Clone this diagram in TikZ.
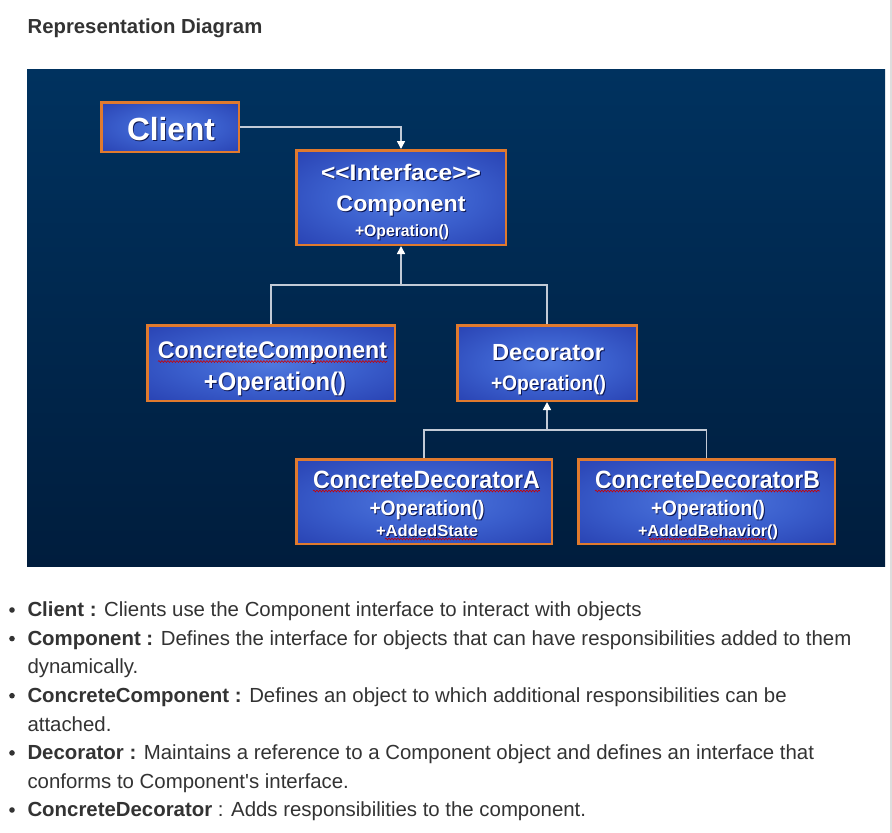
\documentclass[tikz,border=0pt]{standalone}
\usepackage{fontspec}
\usepackage{graphicx}
\setmainfont{Liberation Sans}[Ligatures=TeXOff]
\usetikzlibrary{arrows.meta,decorations.pathmorphing}
\definecolor{txt}{HTML}{333333}
\definecolor{panelTop}{HTML}{00325F}
\definecolor{panelBot}{HTML}{001D3D}
\definecolor{boxin}{HTML}{4F78DE}
\definecolor{boxmid}{HTML}{3A5ECC}
\definecolor{boxedge}{HTML}{1B2C9E}
\definecolor{boxcorner}{HTML}{0E1C80}
\definecolor{boxborder}{HTML}{E07A2E}
\definecolor{connc}{HTML}{C2CAD6}
\definecolor{tshadow}{HTML}{0A1450}
\definecolor{scrollc}{HTML}{DDDDDD}
\pgfdeclareradialshading{boxshade}{\pgfpoint{0bp}{0bp}}{color(0bp)=(boxin); color(18bp)=(boxmid); color(50bp)=(boxedge); color(72bp)=(boxcorner)}
\newcommand\shd[1]{\rlap{\kern1pt\raisebox{-1pt}{\textcolor{tshadow}{#1}}}#1}
\newcommand\fitw[2]{\resizebox{#1}{\height}{#2}}
\tikzset{
  umlbox/.style={draw=boxborder, line width=2.5pt, shading=boxshade, rectangle, inner sep=0pt},
  btxt/.style={anchor=base, inner sep=0pt, text=white},
  conn/.style={draw=connc, line width=1.6pt},
  arr/.style={-{Triangle[width=8pt,length=8pt,color=white]}},
  squiggle/.style={draw=red!80!black, line width=0.6pt, decorate, decoration={snake, amplitude=0.9pt, segment length=3pt}},
  ltxt/.style={anchor=base west, inner sep=0pt, text=txt, font=\fontsize{20.4}{24}\selectfont},
  bul/.style={fill=txt}
}
\begin{document}
\begin{tikzpicture}[x=1pt,y=-1pt]
\useasboundingbox (0,0) rectangle (892,833);
\fill[white] (0,0) rectangle (892,833);
\draw[scrollc, line width=1.5pt] (891.2,0) -- (891.2,833);

% title
\node[anchor=base west, inner sep=0pt, text=txt, font=\fontsize{20.3}{24}\selectfont\bfseries] (title) at (27.5,33.3) {Representation Diagram};

% panel
\shade[top color=panelTop, bottom color=panelBot] (27,69) rectangle (885,566);

% boxes
\node[umlbox, minimum width=137.5pt, minimum height=49.5pt] (client) at (170,127) {};
\node[umlbox, minimum width=209.5pt, minimum height=94.5pt] (comp) at (401,197.5) {};
\node[umlbox, minimum width=247.5pt, minimum height=75.5pt] (cc) at (271,363) {};
\node[umlbox, minimum width=179.5pt, minimum height=75.5pt] (dec) at (547,363) {};
\node[umlbox, minimum width=255.5pt, minimum height=84.5pt] (cda) at (424,501.5) {};
\node[umlbox, minimum width=256.5pt, minimum height=84.5pt] (cdb) at (706.5,501.5) {};

% box texts
\node[btxt, font=\fontsize{32}{36}\selectfont\bfseries] (client-t) at (171,140) {\fitw{88pt}{\shd{Client}}};
\node[btxt, font=\fontsize{22.5}{26}\selectfont\bfseries] (comp-t1) at (401,180.7) {\fitw{160pt}{\shd{<{}<Interface>{}>}}};
\node[btxt, font=\fontsize{22.5}{26}\selectfont\bfseries] (comp-t2) at (401,211.7) {\fitw{129pt}{\shd{Component}}};
\node[btxt, font=\fontsize{16.3}{20}\selectfont\bfseries] (comp-t3) at (402,236.6) {\fitw{94pt}{\shd{+Operation()}}};

\node[btxt, font=\fontsize{24}{28}\selectfont\bfseries] (cc-t1) at (272.5,358) {\fitw{229pt}{\shd{ConcreteComponent}}};
\node[btxt, font=\fontsize{25.5}{28}\selectfont\bfseries] (cc-t2) at (275,390) {\fitw{142pt}{\shd{+Operation()}}};

\node[btxt, font=\fontsize{23.3}{28}\selectfont\bfseries] (dec-t1) at (548,360.5) {\fitw{112pt}{\shd{Decorator}}};
\node[btxt, font=\fontsize{21}{26}\selectfont\bfseries] (dec-t2) at (548.5,390.5) {\fitw{115pt}{\shd{+Operation()}}};

\node[btxt, font=\fontsize{25}{28}\selectfont\bfseries] (cda-t1) at (426.5,488) {\fitw{227pt}{\shd{ConcreteDecoratorA}}};
\node[btxt, font=\fontsize{21}{26}\selectfont\bfseries] (cda-t2) at (427,515) {\fitw{115pt}{\shd{+Operation()}}};
\node[btxt, font=\fontsize{16}{20}\selectfont\bfseries] (cda-t3) at (427,536) {\fitw{102pt}{\shd{+AddedState}}};

\node[btxt, font=\fontsize{25}{28}\selectfont\bfseries] (cdb-t1) at (707.5,488) {\fitw{225pt}{\shd{ConcreteDecoratorB}}};
\node[btxt, font=\fontsize{21}{26}\selectfont\bfseries] (cdb-t2) at (708,515) {\fitw{114pt}{\shd{+Operation()}}};
\node[btxt, font=\fontsize{16}{20}\selectfont\bfseries] (cdb-t3) at (708,536) {\fitw{140pt}{\shd{+AddedBehavior()}}};

% spell-check squiggles
\draw[squiggle] (158,361.5) -- (387,361.5);
\draw[squiggle] (313,491) -- (540,491);
\draw[squiggle] (595,491) -- (820,491);
\draw[squiggle] (385,539) -- (476,539);
\draw[squiggle] (649,539) -- (767,539);

% connectors
\draw[conn, arr] (client.east) -| (comp.north);
\coordinate (j1) at (401,285);
\draw[conn] (cc.north) |- (j1) -| (dec.north);
\draw[conn, arr] (j1) -- (comp.south);
\coordinate (j2) at (547,430);
\draw[conn] (cda.north) |- (j2) -| (cdb.north);
\draw[conn, arr] (j2) -- (dec.south);

% bullet list
\fill[bul] (12,610.0) circle (2.8pt);
\node[ltxt] (l1) at (27.3,616.7) {\textbf{Client :} Clients use the Component interface to interact with objects};
\fill[bul] (12,638.6) circle (2.8pt);
\node[ltxt] (l2) at (27.3,645.3) {\textbf{Component :} Defines the interface for objects that can have responsibilities added to them};
\node[ltxt] (l3) at (27.3,673.8) {dynamically.};
\fill[bul] (12,695.7) circle (2.8pt);
\node[ltxt] (l4) at (27.3,702.4) {\textbf{ConcreteComponent :} Defines an object to which additional responsibilities can be};
\node[ltxt] (l5) at (27.3,731.0) {attached.};
\fill[bul] (12,752.9) circle (2.8pt);
\node[ltxt] (l6) at (27.3,759.6) {\textbf{Decorator :} Maintains a reference to a Component object and defines an interface that};
\node[ltxt] (l7) at (27.3,788.1) {conforms to Component's interface.};
\fill[bul] (12,810.0) circle (2.8pt);
\node[ltxt] (l8) at (27.3,816.7) {\textbf{ConcreteDecorator} : Adds responsibilities to the component.};
\end{tikzpicture}
\end{document}
